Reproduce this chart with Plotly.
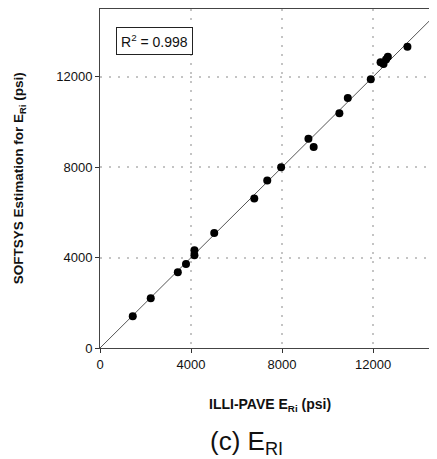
import plotly.graph_objects as go

illi_pave = [1440, 2230, 3420, 3780, 4150, 4150, 5020, 6780, 7350, 7960, 9160, 9390,
             10520, 10890, 11900, 12330, 12460, 12570, 12650, 13510]
softsys = [1400, 2200, 3350, 3720, 4100, 4320, 5090, 6610, 7410, 8000, 9260, 8890,
           10390, 11060, 11890, 12640, 12570, 12770, 12890, 13330]
line_x = [0, 15000]
tick_vals = [0, 4000, 8000, 12000]
tick_text = ["0", "4000", "8000", "12000"]
r2_text = "R<sup>2</sup> = 0.998"

fig = go.Figure()
fig.add_trace(go.Scatter(x=line_x, y=line_x, mode="lines",
                         line=dict(color="#555555", width=1), hoverinfo="skip"))
fig.add_trace(go.Scatter(x=illi_pave, y=softsys, mode="markers",
                         marker=dict(color="black", size=8)))

axis_common = dict(
    tickvals=tick_vals, ticktext=tick_text, ticks="outside", ticklen=4,
    tickcolor="#333333", showline=True, linecolor="#444444", linewidth=1,
    showgrid=True, gridcolor="#c4c4c4", gridwidth=2, griddash="2px,7px",
    zeroline=False, tickfont=dict(family="Arial", size=13, color="#111111"),
)
fig.update_xaxes(range=[0, 14810], mirror=True, **axis_common)
fig.update_yaxes(range=[0, 15000], **axis_common)

fig.update_layout(
    width=429, height=451, showlegend=False,
    plot_bgcolor="white", paper_bgcolor="white",
    margin=dict(l=92, r=0, t=1, b=111),
    font=dict(family="Arial", color="#111111"),
    annotations=[
        dict(text=r2_text, xref="paper", yref="paper", x=0.0475, y=0.906,
             xanchor="left", yanchor="middle", showarrow=False,
             font=dict(size=14, family="Arial"), bordercolor="#222222",
             borderwidth=1, borderpad=4, bgcolor="white"),
        dict(text="<b>ILLI-PAVE E<sub>Ri</sub> (psi)</b>", xref="paper", yref="paper",
             x=0.504, y=-0.168, xanchor="center", yanchor="middle", showarrow=False,
             font=dict(size=14, family="Arial")),
        dict(text="<b>SOFTSYS Estimation for E<sub>Ri</sub> (psi)</b>", xref="paper",
             yref="paper", x=-0.24, y=0.501, xanchor="center", yanchor="middle",
             textangle=-90, showarrow=False, font=dict(size=13.5, family="Arial")),
        dict(text="(c) E<sub>RI</sub>", xref="paper", yref="paper",
             x=0.436, y=-0.28, xanchor="center", yanchor="middle", showarrow=False,
             font=dict(size=26, family="Arial")),
    ],
)
fig.write_html("out.html")
